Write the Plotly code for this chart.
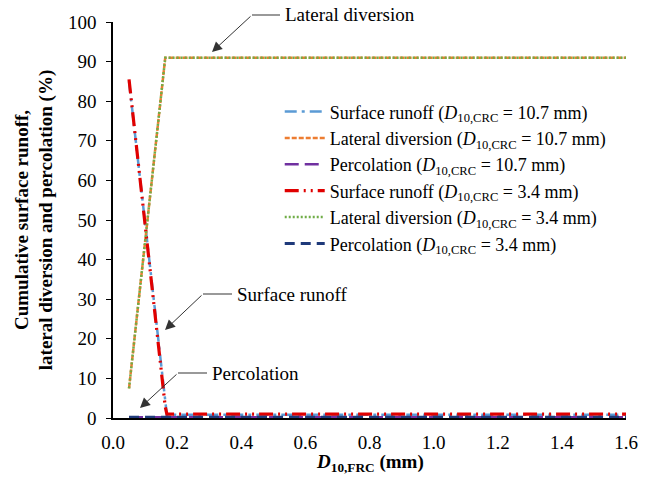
import plotly.graph_objects as go

x_frc = [0.05, 0.163, 0.168, 0.2, 0.4, 0.6, 0.8, 1.0, 1.2, 1.4, 1.6]
surf_107 = [85.0, 2.8, 0.8, 0.8, 0.8, 0.8, 0.8, 0.8, 0.8, 0.8, 0.8]
lat_107 = [7.5, 91.0, 91.0, 91.0, 91.0, 91.0, 91.0, 91.0, 91.0, 91.0, 91.0]
perc_107 = [0.2, 0.2, 0.2, 0.2, 0.2, 0.2, 0.2, 0.2, 0.2, 0.2, 0.2]
surf_34 = [85.5, 2.8, 1.0, 1.0, 1.0, 1.0, 1.0, 1.0, 1.0, 1.0, 1.0]
lat_34 = [7.5, 91.0, 91.0, 91.0, 91.0, 91.0, 91.0, 91.0, 91.0, 91.0, 91.0]
perc_34 = [0.2, 0.2, 0.2, 0.2, 0.2, 0.2, 0.2, 0.2, 0.2, 0.2, 0.2]

names = [
    "Surface runoff (<i>D</i><sub>10,CRC</sub> = 10.7 mm)",
    "Lateral diversion (<i>D</i><sub>10,CRC</sub> = 10.7 mm)",
    "Percolation (<i>D</i><sub>10,CRC</sub> = 10.7 mm)",
    "Surface runoff (<i>D</i><sub>10,CRC</sub> = 3.4 mm)",
    "Lateral diversion (<i>D</i><sub>10,CRC</sub> = 3.4 mm)",
    "Percolation (<i>D</i><sub>10,CRC</sub> = 3.4 mm)",
]
series = [surf_107, lat_107, perc_107, surf_34, lat_34, perc_34]
colors = ["#5B9BD5", "#ED7D31", "#7030A0", "#E00000", "#70AD47", "#1F3A7A"]
dashes = ["12px,5px,3px,5px", "5px,2px", "14px,6px", "14px,5px,2px,5px,2px,5px", "2px,2px", "10px,6px"]
widths = [2.5, 2.5, 2.5, 3.2, 2.5, 3]

FONT = "Liberation Serif"

fig = go.Figure()
for nm, ys, c, d, w in zip(names, series, colors, dashes, widths):
    fig.add_trace(go.Scatter(x=x_frc, y=ys, mode="lines", name=nm,
                             line=dict(color=c, dash=d, width=w)))

L, R, T, B = 113, 626, 22, 418
W, H = R - L, B - T
def px(xp): return (xp - L) / W
def py(yp): return (B - yp) / H

annots = []
shapes = []
labels = [
    ("Lateral diversion", (212, 52), (252, 15), 283),
    ("Surface runoff", (165, 330), (203, 294), 235),
    ("Percolation", (140, 408), (178, 373), 210),
]
for txt, head, tail, tx in labels:
    annots.append(dict(x=px(head[0]), y=py(head[1]), xref="paper", yref="paper",
                       text="", showarrow=True, ax=tail[0] - head[0], ay=tail[1] - head[1],
                       arrowhead=2, arrowsize=2, arrowwidth=1, arrowcolor="#333333"))
    shapes.append(dict(type="line", xref="paper", yref="paper",
                       x0=px(tail[0]), x1=px(tx - 3), y0=py(tail[1]), y1=py(tail[1]),
                       line=dict(color="#555555", width=1.2)))
    annots.append(dict(x=px(tx), y=py(tail[1]), xref="paper", yref="paper",
                       text=txt, showarrow=False, xanchor="left", yanchor="middle",
                       font=dict(family=FONT, size=19, color="black")))

# x-axis title placed as a paper-anchored annotation
annots.append(dict(x=0.5, y=py(463), xref="paper", yref="paper", showarrow=False,
                   text="<b><i>D</i><sub>10,FRC</sub> (mm)</b>", xanchor="center", yanchor="middle",
                   font=dict(family=FONT, size=19, color="black")))

fig.update_layout(
    width=661, height=488,
    margin=dict(l=L, r=661 - R, t=T, b=488 - B, autoexpand=False),
    paper_bgcolor="white", plot_bgcolor="white",
    font=dict(family=FONT, size=19, color="black"),
    showlegend=True,
    legend=dict(x=0.325, y=0.82, xanchor="left", yanchor="top",
                bgcolor="rgba(0,0,0,0)", font=dict(family=FONT, size=18),
                tracegroupgap=0, itemwidth=40),
    annotations=annots,
    shapes=shapes,
    xaxis=dict(range=[0, 1.6], dtick=0.2, tickformat=".1f", showgrid=False,
               showline=True, linecolor="black", linewidth=1.5, ticks="",
               zeroline=False, automargin=False, tickfont=dict(family=FONT, size=19),
               ticklabelstandoff=6),
    yaxis=dict(range=[0, 100], dtick=10, showgrid=False, showline=True,
               linecolor="black", linewidth=1.5, ticks="outside", ticklen=5,
               tickcolor="black", zeroline=False, automargin=False,
               tickfont=dict(family=FONT, size=19), ticklabelstandoff=6,
               title=dict(text="<b>Cumulative surface runoff,<br>lateral diversion and percolation (%)</b>",
                          font=dict(family=FONT, size=19), standoff=10)),
)

fig.write_html("out.html", config={"displayModeBar": False},
               post_script="document.body.style.margin='0';")
